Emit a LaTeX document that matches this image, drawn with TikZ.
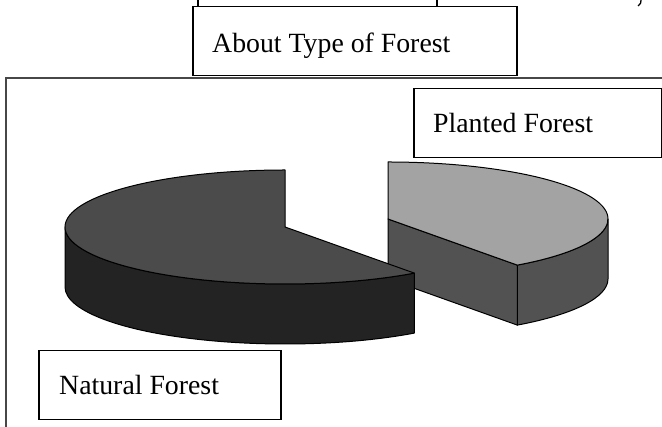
\documentclass[tikz,border=0pt]{standalone}
\usepackage{fontspec}
\setmainfont{Liberation Serif}
\usetikzlibrary{calc}
\definecolor{ntop}{HTML}{4B4B4B}
\definecolor{nside}{HTML}{232323}
\definecolor{ptop}{HTML}{A3A3A3}
\definecolor{pside}{HTML}{525252}
\begin{document}
\begin{tikzpicture}[x=1pt,y=1pt,
  box/.style={draw=black, line width=1.5pt, fill=white, inner sep=0pt, anchor=north west},
  lbl/.style={inner sep=0pt, anchor=base west, font=\fontsize{27.8}{30}\selectfont},
  pie/.style={draw=black, line width=1pt, line join=round},
  ell/.style={x radius=220, y radius=57},
  frag/.style={line width=1.5pt, draw=black}]
\useasboundingbox (0,0) rectangle (662,427);
% outer frame (cut off at right and bottom)
\draw[line width=2pt, draw=black!72] (6,0) -- (6,349) -- (662,349);
% fragments of the cut-off line of text above
\draw[frag] (198,427) -- (198,421);
\draw[frag] (437,427) -- (437,421);
\draw[line width=1.3pt] (641,427) .. controls (641,424) .. (638,421);
% planted forest slice (exploded to the right)
\coordinate (P) at (388,208);
\coordinate (Pe) at ($(P)+(-54:220 and 57)$);
\draw[pie, fill=pside] (Pe) arc[start angle=-54, end angle=0, ell] -- ++(0,-60)
  arc[start angle=0, end angle=-54, ell] -- cycle;
\draw[pie, fill=pside] (P) -- (Pe) -- ($(Pe)+(0,-60)$) -- ($(P)+(0,-60)$) -- cycle;
\draw[pie, fill=ptop] (P) -- (Pe) arc[start angle=-54, end angle=90, ell] -- cycle;
% natural forest slice
\coordinate (N) at (285,200);
\coordinate (Nl) at ($(N)+(180:220 and 57)$);
\draw[pie, fill=nside] (Nl) arc[start angle=180, end angle=306, ell] -- ++(0,-60)
  arc[start angle=306, end angle=180, ell] -- cycle;
\draw[pie, fill=ntop] (N) -- ++(90:220 and 57) arc[start angle=90, end angle=306, ell] -- cycle;
% label boxes
\node[box, minimum width=324, minimum height=69] (about) at (192,421) {};
\node[lbl] (abouttxt) at (212,374) {About Type of Forest};
\node[box, minimum width=248, minimum height=69] (planted) at (413,339) {};
\node[lbl] (plantedtxt) at (433,294) {Planted Forest};
\node[box, minimum width=242, minimum height=69] (natural) at (38,77) {};
\node[lbl] (naturaltxt) at (59,32) {Natural Forest};
\end{tikzpicture}
\end{document}
